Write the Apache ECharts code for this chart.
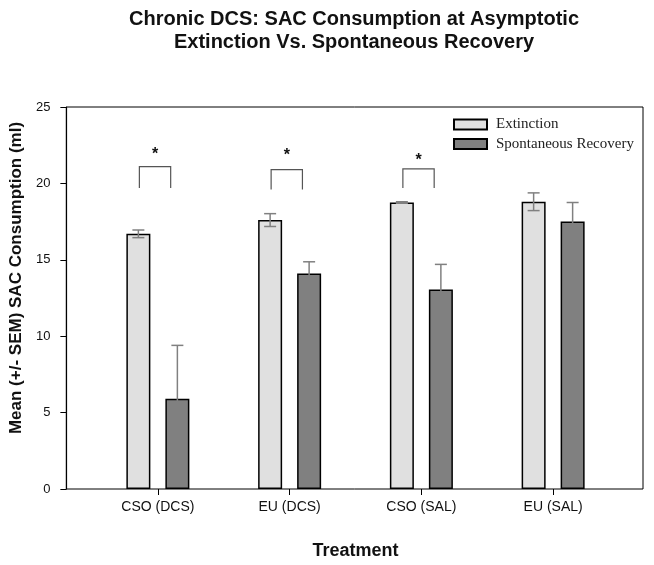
<!DOCTYPE html>
<html>
<head>
<meta charset="utf-8">
<script src="https://cdn.jsdelivr.net/npm/echarts@6/dist/echarts.min.js"></script>
<style>
html,body{margin:0;padding:0;background:#fff;}
#chart{width:654px;height:565px;}
</style>
</head>
<body>
<div id="chart"></div>
<script>
// ---- data ----
const categories = ['CSO (DCS)', 'EU (DCS)', 'CSO (SAL)', 'EU (SAL)'];
const extinction = [16.7, 17.6, 18.75, 18.8];
const extinctionSem = [0.25, 0.42, 0.05, 0.58];
const recovery = [5.9, 14.1, 13.05, 17.5];
const recoverySem = [3.5, 0.77, 1.65, 1.25];
// significance brackets: category index, bracket top, leg bottom, star position
const bracketCats = [0, 1, 2];
const bracketTop = [21.1, 20.9, 20.95];
const bracketLeg = [19.7, 19.6, 19.7];
const starY = [22.1, 22.0, 21.7];
const yTicks = [0, 5, 10, 15, 20, 25];

const FONT = '"Liberation Sans", Arial, sans-serif';
const SERIF = '"Liberation Serif", "Times New Roman", serif';
const BAR_W = 24, BAR_GAP = 15;
const HALF = (BAR_W + BAR_GAP) / 2;

const chart = echarts.init(document.getElementById('chart'), null, {renderer: 'canvas'});

function errorRender(sign) {
  return function (params, api) {
    const idx = api.value(0);
    const m = api.value(1), s = api.value(2);
    const hi = api.coord([idx, m + s]);
    const lo = api.coord([idx, m - s]);
    const x = hi[0] + sign * HALF;
    const cap = 6;
    const style = {stroke: '#808080', lineWidth: 1.5, fill: null};
    return {
      type: 'group',
      children: [
        {type: 'line', shape: {x1: x, y1: hi[1], x2: x, y2: lo[1]}, style: style},
        {type: 'line', shape: {x1: x - cap, y1: hi[1], x2: x + cap, y2: hi[1]}, style: style},
        {type: 'line', shape: {x1: x - cap, y1: lo[1], x2: x + cap, y2: lo[1]}, style: style}
      ]
    };
  };
}

function bracketRender(params, api) {
  const idx = api.value(0);
  const top = api.coord([idx, api.value(1)]);
  const leg = api.coord([idx, api.value(2)]);
  const st = api.coord([idx, api.value(3)]);
  const x1 = top[0] - 18.5, x2 = top[0] + 12.8;
  return {
    type: 'group',
    children: [
      {type: 'polyline', shape: {points: [[x1, leg[1]], [x1, top[1]], [x2, top[1]], [x2, leg[1]]]},
       style: {stroke: '#555', lineWidth: 1.2, fill: null}},
      {type: 'text', style: {text: '*', x: (x1 + x2) / 2, y: st[1] + 3, align: 'center', verticalAlign: 'middle',
        font: 'bold 16px ' + FONT, fill: '#111'}}
    ]
  };
}

const option = {
  backgroundColor: '#fff',
  animation: false,
  title: {
    text: 'Chronic DCS: SAC Consumption at Asymptotic\nExtinction Vs. Spontaneous Recovery',
    left: 354, top: 8, textAlign: 'center', padding: 0,
    textStyle: {fontFamily: FONT, fontSize: 20, fontWeight: 'bold', color: '#111', lineHeight: 23}
  },
  legend: {
    orient: 'vertical', left: 453, top: 117, padding: 0,
    itemWidth: 33, itemHeight: 10, itemGap: 4.5, icon: 'rect',
    data: ['Extinction', 'Spontaneous Recovery'],
    textStyle: {fontFamily: SERIF, fontSize: 15, color: '#222', lineHeight: 15, padding: [0, 0, 0, 4]}
  },
  grid: [
    {left: 66, right: 11, top: 107, bottom: 76, show: true, borderColor: '#000', borderWidth: 1, containLabel: false},
    {left: 92, width: 527, top: 107, bottom: 76, containLabel: false}
  ],
  xAxis: [
    {gridIndex: 0, type: 'value', min: 0, max: 1, show: false},
    {gridIndex: 1, type: 'category', data: categories,
     axisLine: {show: false},
     axisTick: {show: true, length: 6, alignWithLabel: true, lineStyle: {color: '#000'}},
     axisLabel: {fontFamily: FONT, fontSize: 14, color: '#111', margin: 11},
     name: 'Treatment', nameLocation: 'middle', nameGap: 53,
     nameTextStyle: {fontFamily: FONT, fontSize: 18, fontWeight: 'bold', color: '#111'}}
  ],
  yAxis: [
    {gridIndex: 0, type: 'value', min: yTicks[0], max: yTicks[yTicks.length - 1], interval: 5,
     splitLine: {show: false},
     axisLine: {show: true, lineStyle: {color: '#000', width: 1.2}},
     axisTick: {show: true, length: 6, lineStyle: {color: '#000'}},
     axisLabel: {fontFamily: FONT, fontSize: 13, color: '#111', margin: 16},
     name: 'Mean (+/- SEM) SAC Consumption (ml)', nameLocation: 'middle', nameGap: 34, nameRotate: 90,
     nameTextStyle: {fontFamily: FONT, fontSize: 17, fontWeight: 'bold', color: '#111', padding: [0, 0, 0, 40]}},
    {gridIndex: 1, type: 'value', min: 0, max: 25, show: false}
  ],
  series: [
    {name: 'Extinction', type: 'bar', xAxisIndex: 1, yAxisIndex: 1, data: extinction,
     barWidth: BAR_W, barGap: (BAR_GAP / BAR_W * 100) + '%',
     itemStyle: {color: '#e0e0e0', borderColor: '#000', borderWidth: 1.5}},
    {name: 'Spontaneous Recovery', type: 'bar', xAxisIndex: 1, yAxisIndex: 1, data: recovery,
     barWidth: BAR_W, barGap: (BAR_GAP / BAR_W * 100) + '%',
     itemStyle: {color: '#808080', borderColor: '#000', borderWidth: 1.5}},
    {type: 'custom', xAxisIndex: 1, yAxisIndex: 1, z: 5, renderItem: errorRender(-1),
     encode: {x: 0, y: 1},
     data: categories.map((c, i) => [i, extinction[i], extinctionSem[i]])},
    {type: 'custom', xAxisIndex: 1, yAxisIndex: 1, z: 5, renderItem: errorRender(1),
     encode: {x: 0, y: 1},
     data: categories.map((c, i) => [i, recovery[i], recoverySem[i]])},
    {type: 'custom', xAxisIndex: 1, yAxisIndex: 1, z: 6, renderItem: bracketRender,
     encode: {x: 0, y: 1},
     data: bracketCats.map((c, i) => [c, bracketTop[i], bracketLeg[i], starY[i]])}
  ]
};
chart.setOption(option);
</script>
</body>
</html>
